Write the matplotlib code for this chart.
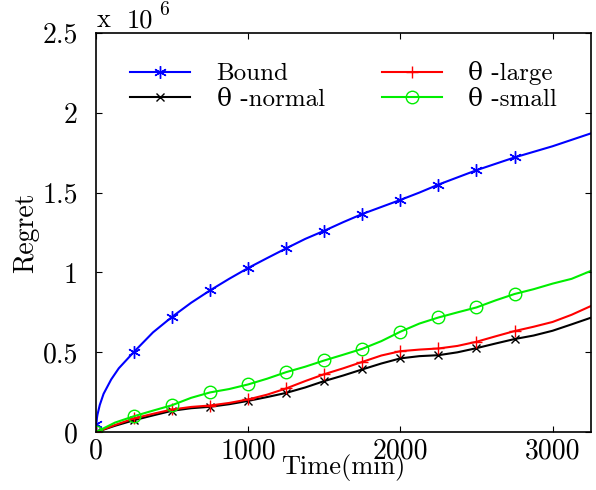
import matplotlib
matplotlib.use("Agg")
import matplotlib.pyplot as plt

# ─── data (regret in units of 1e6) ───────────────────────────────────────────
time_min = [0, 125, 250, 375, 500, 625, 750, 875, 1000, 1125, 1250, 1375,
            1500, 1625, 1750, 1875, 2000, 2125, 2250, 2375, 2500, 2625,
            2750, 2875, 3000, 3125, 3250]

bound_t = [0, 10, 25, 50, 100, 150, 250, 375, 500, 625, 750, 875, 1000,
           1125, 1250, 1375, 1500, 1625, 1750, 1875, 2000, 2125, 2250,
           2375, 2500, 2625, 2750, 2875, 3000, 3125, 3250]
bound = [0.05, 0.11, 0.17, 0.24, 0.33, 0.40, 0.503, 0.625, 0.722, 0.81,
         0.888, 0.96, 1.028, 1.09, 1.151, 1.21, 1.261, 1.315, 1.366, 1.41,
         1.454, 1.50, 1.55, 1.595, 1.64, 1.68, 1.72, 1.755, 1.79, 1.83, 1.87]

theta_normal = [0, 0.04, 0.075, 0.105, 0.134, 0.15, 0.159, 0.175, 0.196,
                0.22, 0.246, 0.28, 0.32, 0.355, 0.393, 0.43, 0.462, 0.476,
                0.482, 0.50, 0.526, 0.555, 0.583, 0.605, 0.635, 0.675, 0.716]
theta_large = [0, 0.045, 0.086, 0.115, 0.142, 0.158, 0.167, 0.183, 0.205,
               0.235, 0.274, 0.32, 0.363, 0.40, 0.44, 0.48, 0.507, 0.517,
               0.524, 0.54, 0.566, 0.60, 0.633, 0.66, 0.69, 0.735, 0.789]
theta_small = [0, 0.06, 0.10, 0.135, 0.169, 0.215, 0.249, 0.27, 0.299,
               0.335, 0.376, 0.41, 0.449, 0.485, 0.522, 0.57, 0.629, 0.68,
               0.718, 0.75, 0.781, 0.825, 0.865, 0.895, 0.93, 0.96, 1.009]

x_ticks = [0, 1000, 2000, 3000]
y_ticks = [0, 0.5, 1, 1.5, 2, 2.5]
y_tick_labels = ["0", "0.5", "1", "1.5", "2", "2.5"]

# ─── style ───────────────────────────────────────────────────────────────────
plt.rcParams["font.family"] = ["cmr10", "DejaVu Serif"]
plt.rcParams["mathtext.fontset"] = "cm"
plt.rcParams["axes.formatter.use_mathtext"] = True

fig = plt.figure(figsize=(5.96, 4.9), dpi=100)
ax = fig.add_axes([0.161, 0.118, 0.830, 0.815])

FS = 20
marks = slice(0, 23, 2)
asterisk = (6, 2, 0)

ax.plot(bound_t, bound, color="blue", lw=1.5, marker=asterisk, ms=9,
        mew=1.0, markevery=[0, 6] + list(range(8, 27, 2)), label="Bound")
ax.plot(time_min, theta_normal, color="black", lw=1.5, marker="x", ms=6,
        markevery=marks, label="θ -normal")
ax.plot(time_min, theta_large, color="red", lw=1.5, marker="+", ms=9,
        markevery=marks, label="θ -large")
ax.plot(time_min, theta_small, color="#00ee00", lw=1.5, marker="o", ms=9,
        mfc="none", markevery=marks, label="θ -small")

ax.set_xlim(0, 3250)
ax.set_ylim(0, 2.5)
ax.set_xticks(x_ticks)
ax.set_xticklabels([str(v) for v in x_ticks], fontsize=FS)
ax.set_yticks(y_ticks)
ax.set_yticklabels(y_tick_labels, fontsize=FS)
ax.tick_params(direction="in", top=True, right=True, length=4, width=0.8)
ax.tick_params(axis="x", pad=4)
ax.tick_params(axis="y", pad=13)
for spine in ax.spines.values():
    spine.set_linewidth(1.2)

ax.set_xlabel("Time(min)", fontsize=19, labelpad=-7)
ax.set_ylabel("Regret", fontsize=FS, labelpad=2)

# exponent label above the axes
fig.text(97 / 596, 1 - 27 / 490, "x", fontsize=19, ha="left", va="baseline")
fig.text(127 / 596, 1 - 27 / 490, "10", fontsize=19, ha="left", va="baseline")
fig.text(159 / 596, 1 - 15 / 490, "6", fontsize=14, ha="left", va="baseline")

ax.legend(loc="upper left", bbox_to_anchor=(0.024, 0.985), ncol=2,
          frameon=False, fontsize=18, handlelength=2.4, columnspacing=2.3,
          handletextpad=1.05, labelspacing=0.12)

fig.savefig("out.png", dpi=100)
